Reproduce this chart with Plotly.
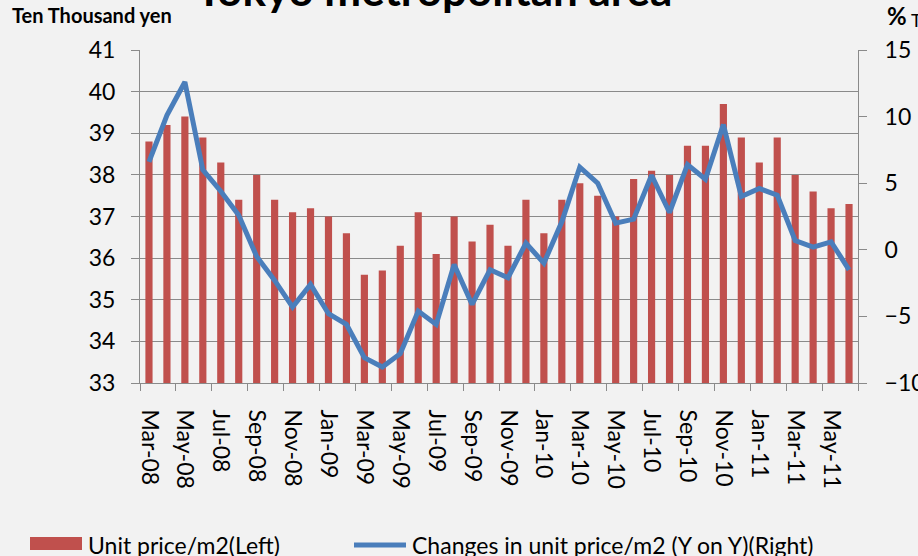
import plotly.graph_objects as go

months = ["Mar-08","Apr-08","May-08","Jun-08","Jul-08","Aug-08","Sep-08","Oct-08","Nov-08","Dec-08",
          "Jan-09","Feb-09","Mar-09","Apr-09","May-09","Jun-09","Jul-09","Aug-09","Sep-09","Oct-09",
          "Nov-09","Dec-09","Jan-10","Feb-10","Mar-10","Apr-10","May-10","Jun-10","Jul-10","Aug-10",
          "Sep-10","Oct-10","Nov-10","Dec-10","Jan-11","Feb-11","Mar-11","Apr-11","May-11","Jun-11"]

unit_price = [38.8, 39.2, 39.4, 38.9, 38.3, 37.4, 38.0, 37.4, 37.1, 37.2,
              37.0, 36.6, 35.6, 35.7, 36.3, 37.1, 36.1, 37.0, 36.4, 36.8,
              36.3, 37.4, 36.6, 37.4, 37.8, 37.5, 37.0, 37.9, 38.1, 38.0,
              38.7, 38.7, 39.7, 38.9, 38.3, 38.9, 38.0, 37.6, 37.2, 37.3]

yoy_change = [6.6, 10.1, 12.6, 6.0, 4.4, 2.6, -0.5, -2.3, -4.3, -2.6,
              -4.8, -5.6, -8.1, -8.8, -7.8, -4.6, -5.6, -1.1, -4.1, -1.5,
              -2.1, 0.5, -1.0, 2.1, 6.2, 5.0, 2.0, 2.3, 5.6, 2.8,
              6.4, 5.3, 9.4, 4.0, 4.6, 4.1, 0.7, 0.2, 0.6, -1.5]

left_ticks = [33, 34, 35, 36, 37, 38, 39, 40, 41]
right_ticks = [-10, -5, 0, 5, 10, 15]

bar_name = "Unit price/m2(Left)"
line_name = "Changes in unit price/m2 (Y on Y)(Right)"

FONT = "Lato"
GRID = "#8a8a8a"
BG = "#f2f2f2"
RED = "#c0504d"
BLUE = "#4a7ebb"
TICKSIZE = 23

fig = go.Figure()
fig.add_trace(go.Bar(x=months, y=unit_price, name=bar_name,
                     marker=dict(color=RED, line=dict(width=0)), yaxis="y"))
fig.add_trace(go.Scatter(x=months, y=yoy_change, name=line_name,
                         mode="lines", line=dict(color=BLUE, width=5), yaxis="y2"))

fig.update_layout(
    width=918, height=556,
    paper_bgcolor=BG, plot_bgcolor=BG,
    margin=dict(l=140, r=60, t=50, b=173, autoexpand=False),
    bargap=0.6,
    font=dict(family=FONT, color="#000000", size=TICKSIZE),
    showlegend=False,
    xaxis=dict(type="category", tickangle=90, dtick=2, ticks="outside", ticklen=7,
               tickcolor=GRID, tickwidth=1, tickson="boundaries", showgrid=False,
               showline=True, linecolor=GRID, linewidth=1, automargin=False,
               tickfont=dict(family=FONT, size=TICKSIZE), ticklabelstandoff=21),
    yaxis=dict(range=[33, 41], tickvals=left_ticks, showgrid=True, gridcolor=GRID, gridwidth=1,
               showline=True, linecolor=GRID, linewidth=1, ticks="outside", ticklen=8,
               tickcolor=GRID, zeroline=False, tickfont=dict(family=FONT, size=TICKSIZE),
               ticklabelstandoff=11, automargin=False),
    yaxis2=dict(range=[-10, 15], tickvals=right_ticks, overlaying="y", side="right",
                showgrid=False, showline=True, linecolor=GRID, linewidth=1, ticks="outside",
                ticklen=8, tickcolor=GRID, zeroline=False, automargin=False,
                tickfont=dict(family=FONT, size=TICKSIZE), ticklabelstandoff=13),
)

# pixel -> paper coordinate helpers (plot area: x 140..858, y 50..383)
W, H = 918 - 140 - 60, 556 - 50 - 173
def px(xp):
    return (xp - 140) / W
def py(yp):
    return (383 - yp) / H

fig.add_annotation(text="<b>Tokyo metropolitan area</b>", x=px(434), xref="paper", xanchor="center",
                   y=py(17), yref="paper", yanchor="bottom", showarrow=False,
                   font=dict(family=FONT, size=44))
fig.add_annotation(text="<b>Ten Thousand yen</b>", x=px(10), xref="paper", xanchor="left",
                   y=py(15), yref="paper", yanchor="middle", showarrow=False,
                   font=dict(family=FONT, size=20))
fig.add_annotation(text="<b>%</b>", x=px(885), xref="paper", xanchor="left",
                   y=py(15), yref="paper", yanchor="middle", showarrow=False,
                   font=dict(family=FONT, size=24))
fig.add_annotation(text="T", x=px(909), xref="paper", xanchor="left",
                   y=py(20), yref="paper", yanchor="middle", showarrow=False,
                   font=dict(family=FONT, size=18))

# legend (drawn manually to match the reference's wide symbols)
fig.add_shape(type="rect", xref="paper", yref="paper", x0=px(30), x1=px(82), y0=py(537), y1=py(550),
              fillcolor=RED, line=dict(width=0))
fig.add_annotation(text=bar_name, x=px(86), xref="paper", xanchor="left",
                   y=py(545), yref="paper", yanchor="middle", showarrow=False,
                   font=dict(family=FONT, size=TICKSIZE))
fig.add_shape(type="line", xref="paper", yref="paper", x0=px(354), x1=px(406), y0=py(545), y1=py(545),
              line=dict(color=BLUE, width=5))
fig.add_annotation(text=line_name, x=px(410), xref="paper", xanchor="left",
                   y=py(545), yref="paper", yanchor="middle", showarrow=False,
                   font=dict(family=FONT, size=TICKSIZE))

fig.write_html("out.html", config={"displayModeBar": False},
               post_script="document.body.style.margin='0px'; document.body.style.overflow='hidden';")
